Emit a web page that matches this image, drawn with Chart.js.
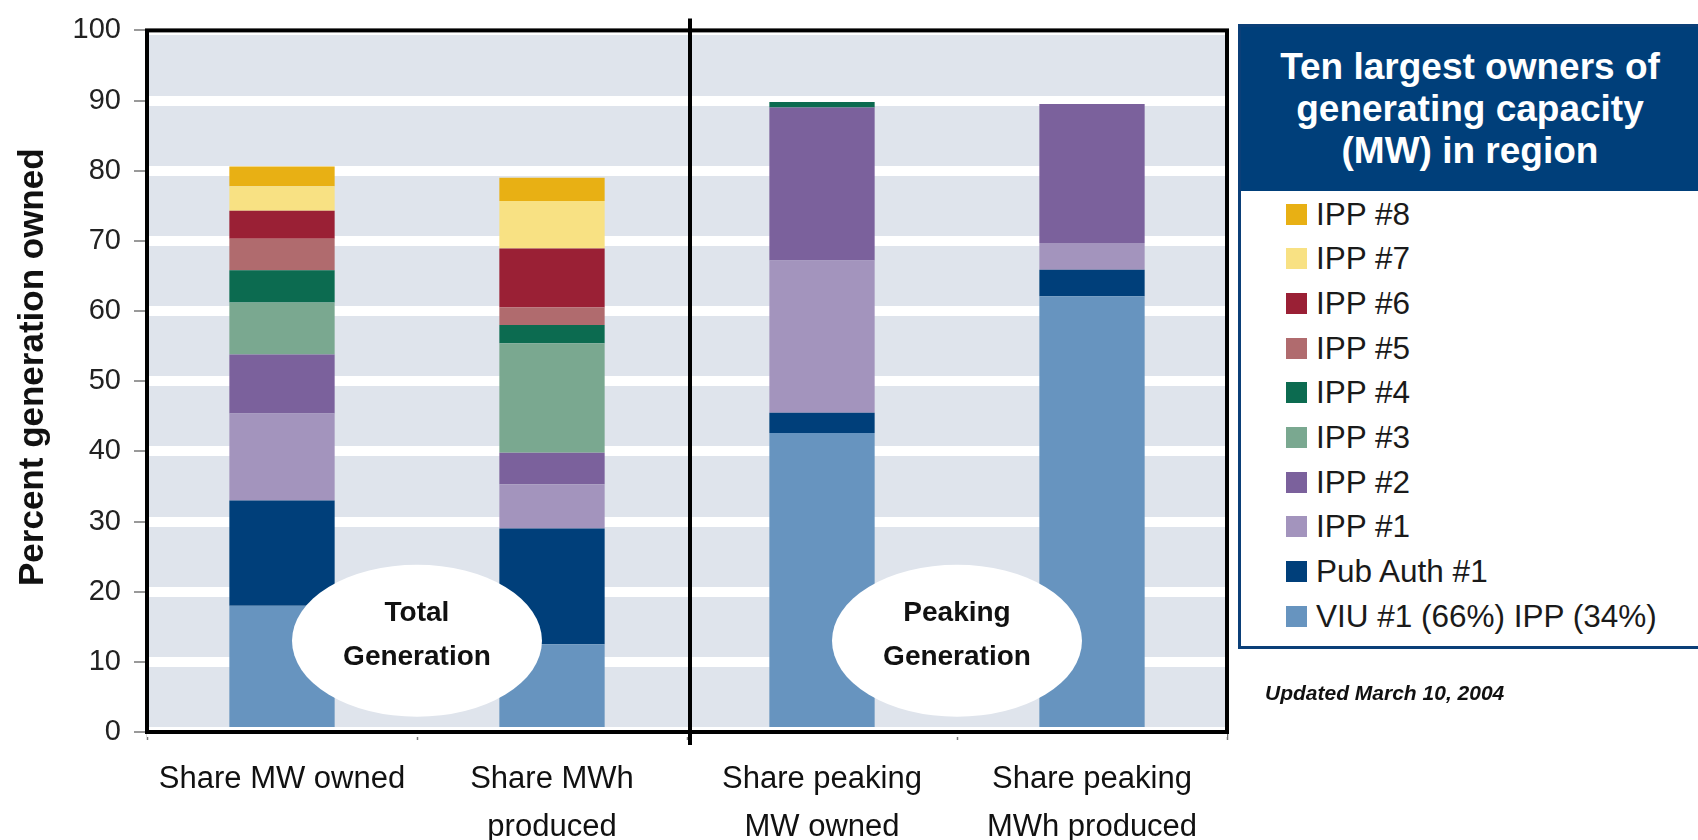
<!DOCTYPE html>
<html>
<head>
<meta charset="utf-8">
<script src="https://cdn.jsdelivr.net/npm/chart.js@4.4.1/dist/chart.umd.min.js"></script>
<style>
  body { margin: 0; background: #fff; overflow: hidden; font-family: "Liberation Sans", Arial, sans-serif; }
  #wrap { position: relative; width: 1698px; height: 840px; }
  #legendBox { position: absolute; left: 1238px; top: 24px; width: 464px; height: 625px;
    border: 3px solid #0b3f78; box-sizing: border-box; background: #fff; }
  #legendHead { height: 164px; background: #003f7a; color: #fff; font-weight: bold; font-size: 37px;
    line-height: 42px; text-align: center; display: flex; flex-direction: column; justify-content: center; }
  .item { position: absolute; left: 45px; height: 44px; display: flex; align-items: center;
    font-size: 31.5px; color: #1a1a1a; white-space: nowrap; }
  .item span.sw { display: inline-block; width: 21px; height: 21px; margin-right: 9px; }
  #updated { position: absolute; left: 1265px; top: 681px; font-size: 21px; line-height: 24px;
    font-weight: bold; font-style: italic; color: #111; }
</style>
</head>
<body>
<div id="wrap">
  <canvas id="myChart" width="1698" height="840"></canvas>
  <div id="legendBox">
    <div id="legendHead"><div>Ten largest owners of</div><div>generating capacity</div><div>(MW) in region</div></div>
  </div>
  <div id="updated">Updated March 10, 2004</div>
</div>
<script>
// categories and series (percent of generation), bottom of stack first
var categories = [["Share MW owned"], ["Share MWh", "produced"], ["Share peaking", "MW owned"], ["Share peaking", "MWh produced"]];

var seriesNames = ["VIU #1 (66%) IPP (34%)", "Pub Auth #1", "IPP #1", "IPP #2", "IPP #3", "IPP #4", "IPP #5", "IPP #6", "IPP #7", "IPP #8"];
var seriesColors = ["#6794bf", "#003f7a", "#a394bd", "#7b619c", "#7aa890", "#0c6b50", "#b06b6e", "#9a2035", "#f8e183", "#e8b014"];

var viu1 = [18.0, 12.5, 42.6, 62.1];
var pubAuth1 = [15.0, 16.5, 2.9, 3.8];
var ipp1 = [12.4, 6.3, 21.7, 3.8];
var ipp2 = [8.4, 4.5, 21.8, 19.8];
var ipp3 = [7.4, 15.6, 0, 0];
var ipp4 = [4.6, 2.6, 0.8, 0];
var ipp5 = [4.5, 2.5, 0, 0];
var ipp6 = [4.0, 8.4, 0, 0];
var ipp7 = [3.5, 6.8, 0, 0];
var ipp8 = [2.8, 3.3, 0, 0];

var yTicks = [0, 10, 20, 30, 40, 50, 60, 70, 80, 90, 100];

// ellipse notes: x between categories, y in percent
var notes = [
  { at: 0.5, y: 13, lines: ["Total", "Generation"] },
  { at: 2.5, y: 13, lines: ["Peaking", "Generation"] }
];

var allSeries = [viu1, pubAuth1, ipp1, ipp2, ipp3, ipp4, ipp5, ipp6, ipp7, ipp8];

var FONT = '"Liberation Sans", Arial, sans-serif';

var frame = {
  id: 'frame',
  beforeDraw: function(chart) {
    var a = chart.chartArea, ctx = chart.ctx;
    ctx.save();
    ctx.fillStyle = '#dfe4ec';
    ctx.fillRect(a.left, a.top, a.right - a.left, a.bottom - a.top);
    ctx.restore();
  },
  afterDatasetsDraw: function(chart) {
    var a = chart.chartArea, ctx = chart.ctx;
    var xs = chart.scales.x, ys = chart.scales.y;
    ctx.save();
    // ellipses with labels
    notes.forEach(function(n) {
      var cx = xs.getPixelForValue(n.at);
      var cy = ys.getPixelForValue(n.y);
      ctx.beginPath();
      ctx.ellipse(cx, cy, 125, 76, 0, 0, Math.PI * 2);
      ctx.fillStyle = '#ffffff';
      ctx.fill();
      ctx.fillStyle = '#111';
      ctx.font = 'bold 28px ' + FONT;
      ctx.textAlign = 'center';
      ctx.textBaseline = 'middle';
      ctx.fillText(n.lines[0], cx, cy - 28);
      ctx.fillText(n.lines[1], cx, cy + 16);
    });
    // box round the plot
    ctx.strokeStyle = '#000';
    ctx.lineWidth = 4;
    ctx.strokeRect(a.left, a.top, a.right - a.left, a.bottom - a.top);
    // divider between total and peaking
    var dx = xs.getPixelForValue(1.5) + 3;
    ctx.beginPath();
    ctx.moveTo(dx, a.top - 12);
    ctx.lineTo(dx, a.bottom + 13);
    ctx.stroke();
    // y axis title
    ctx.translate(33, (a.top + a.bottom) / 2 - 14);
    ctx.rotate(-Math.PI / 2);
    ctx.fillStyle = '#111';
    ctx.font = 'bold 35px ' + FONT;
    ctx.textAlign = 'center';
    ctx.textBaseline = 'middle';
    ctx.fillText('Percent generation owned', 0, 0);
    ctx.restore();
  }
};

var datasets = allSeries.map(function(vals, i) {
  return {
    label: seriesNames[i],
    data: vals,
    backgroundColor: seriesColors[i],
    borderWidth: 0,
    barPercentage: 0.39,
    categoryPercentage: 1.0
  };
});

var ctx = document.getElementById('myChart').getContext('2d');
var chart = new Chart(ctx, {
  type: 'bar',
  data: {
    labels: categories,
    datasets: datasets
  },
  options: {
    responsive: false,
    animation: false,
    layout: { padding: { left: 8, right: 471, top: 24, bottom: 0 } },
    plugins: { legend: { display: false }, tooltip: { enabled: false } },
    scales: {
      x: {
        stacked: true,
        afterFit: function(scale) { scale.height = 108; },
        border: { display: false },
        grid: { offset: true, drawOnChartArea: false, drawTicks: true, tickLength: 8, tickColor: '#777', tickWidth: 1.5 },
        ticks: { color: '#111', font: { family: FONT, size: 31, lineHeight: 1.55 }, padding: 15, maxRotation: 0, autoSkip: false }
      },
      y: {
        stacked: true,
        min: 0,
        max: 100,
        afterFit: function(scale) { scale.width = 139; },
        afterBuildTicks: function(scale) { scale.ticks = yTicks.map(function(v) { return { value: v }; }); },
        border: { display: false },
        grid: { color: '#ffffff', lineWidth: 10, drawTicks: true, tickLength: 13, tickColor: '#777', tickWidth: 1.5 },
        ticks: { color: '#222', font: { family: FONT, size: 29 }, padding: 13 }
      }
    }
  },
  plugins: [frame]
});

// legend built from the same series, top item = top of stack
var box = document.getElementById('legendBox');
for (var i = seriesNames.length - 1; i >= 0; i--) {
  var row = seriesNames.length - 1 - i;
  var it = document.createElement('div');
  it.className = 'item';
  it.style.top = (214 - 27 - 22 + row * 44.7) + 'px';
  it.innerHTML = '<span class="sw" style="background:' + seriesColors[i] + '"></span>' + seriesNames[i];
  box.appendChild(it);
}
</script>
</body>
</html>
